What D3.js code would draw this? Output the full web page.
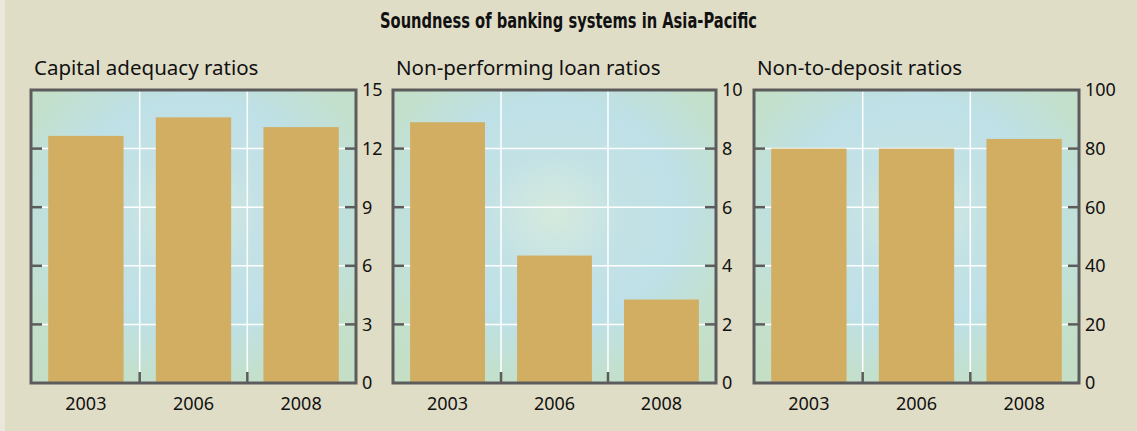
<!DOCTYPE html>
<html>
<head>
<meta charset="utf-8">
<script src="https://cdn.jsdelivr.net/npm/d3@7"></script>
<style>
	body { margin: 0; background: #e0ddc7; }
	svg { display: block; }
</style>
</head>
<body>
<div id="chart"></div>
<script>
// data
var years = ['2003', '2006', '2008'];
var capitalRatios = [12.65, 13.6, 13.1];
var nplRatios = [8.9, 4.35, 2.85];
var depositRatios = [80, 80, 83.3];

var capitalTicks = [0, 3, 6, 9, 12, 15];
var nplTicks = [0, 2, 4, 6, 8, 10];
var depositTicks = [0, 20, 40, 60, 80, 100];

var titles = ['Capital adequacy ratios', 'Non-performing loan ratios', 'Non-to-deposit ratios'];
var chartTitle = 'Soundness of banking systems in Asia-Pacific';

var width = 1137, height = 431;
var plotTop = 90, plotBottom = 383;

var panels = [
	{ title: titles[0], values: capitalRatios, ticks: capitalTicks, x0: 31, x1: 356 },
	{ title: titles[1], values: nplRatios, ticks: nplTicks, x0: 393, x1: 716 },
	{ title: titles[2], values: depositRatios, ticks: depositTicks, x0: 754, x1: 1079 },
];

var svg = d3.select('#chart').append('svg')
	.attr('width', width)
	.attr('height', height);

svg.append('rect').attr('width', width).attr('height', height).attr('fill', '#e0ddc7');
svg.append('rect').attr('width', 5).attr('height', height).attr('fill', '#eae8db');

var defs = svg.append('defs');
var grad = defs.append('radialGradient')
	.attr('id', 'panelBg')
	.attr('cx', 0.5).attr('cy', 0.42).attr('r', 0.7);
grad.append('stop').attr('offset', '0%').attr('stop-color', '#d6eadd');
grad.append('stop').attr('offset', '28%').attr('stop-color', '#c4e2e5');
grad.append('stop').attr('offset', '55%').attr('stop-color', '#bee0e7');
grad.append('stop').attr('offset', '82%').attr('stop-color', '#c3e0cd');
grad.append('stop').attr('offset', '100%').attr('stop-color', '#c4dfc6');

// condensed bold title: squeeze to the width seen in the picture
svg.append('text')
	.attr('x', 380).attr('y', 28)
	.attr('textLength', 377)
	.attr('lengthAdjust', 'spacingAndGlyphs')
	.style('font-family', '"DejaVu Sans", sans-serif')
	.style('font-weight', 'bold')
	.style('font-size', '22px')
	.attr('fill', '#111')
	.text(chartTitle);

var frameColor = '#5c5c5c';
var labelFont = '"Noto Sans", "Open Sans", sans-serif';

panels.forEach(function (p) {
	var g = svg.append('g');
	var ymax = d3.max(p.ticks);

	var x = d3.scaleBand().domain(years).range([p.x0, p.x1]).paddingInner(0.3).paddingOuter(0.16);
	var y = d3.scaleLinear().domain([0, ymax]).range([plotBottom, plotTop]);

	g.append('rect')
		.attr('x', p.x0).attr('y', plotTop)
		.attr('width', p.x1 - p.x0).attr('height', plotBottom - plotTop)
		.attr('fill', 'url(#panelBg)');

	// white grid lines
	g.append('g').selectAll('line').data(p.ticks.slice(1, -1)).join('line')
		.attr('x1', p.x0).attr('x2', p.x1)
		.attr('y1', d => y(d)).attr('y2', d => y(d))
		.attr('stroke', '#fff').attr('stroke-width', 1.5);

	var step = x.step();
	var bounds = years.slice(1).map(d => x(d) - step * x.paddingInner() / 2);
	g.append('g').selectAll('line').data(bounds).join('line')
		.attr('x1', d => d).attr('x2', d => d)
		.attr('y1', plotTop).attr('y2', plotBottom)
		.attr('stroke', '#fff').attr('stroke-width', 1.5);

	g.append('g').selectAll('rect').data(p.values).join('rect')
		.attr('x', (d, i) => x(years[i]))
		.attr('width', x.bandwidth())
		.attr('y', d => y(d))
		.attr('height', d => plotBottom - y(d))
		.attr('fill', '#d1ae62');

	// inner ticks on both sides + bottom
	var tk = p.ticks.slice(1, -1);
	g.append('g').selectAll('line').data(tk).join('line')
		.attr('x1', p.x1 - 11).attr('x2', p.x1)
		.attr('y1', d => y(d)).attr('y2', d => y(d))
		.attr('stroke', frameColor).attr('stroke-width', 2.5);
	g.append('g').selectAll('line').data(tk).join('line')
		.attr('x1', p.x0).attr('x2', p.x0 + 11)
		.attr('y1', d => y(d)).attr('y2', d => y(d))
		.attr('stroke', frameColor).attr('stroke-width', 2.5);
	g.append('g').selectAll('line').data(bounds).join('line')
		.attr('x1', d => d).attr('x2', d => d)
		.attr('y1', plotBottom - 11).attr('y2', plotBottom)
		.attr('stroke', frameColor).attr('stroke-width', 2.5);

	g.append('rect')
		.attr('x', p.x0).attr('y', plotTop)
		.attr('width', p.x1 - p.x0).attr('height', plotBottom - plotTop)
		.attr('fill', 'none')
		.attr('stroke', frameColor).attr('stroke-width', 3);

	// right axis labels
	g.append('g').selectAll('text').data(p.ticks).join('text')
		.attr('x', p.x1 + 6)
		.attr('y', d => y(d))
		.attr('dy', '0.36em')
		.style('font-family', labelFont)
		.style('font-size', '18px')
		.attr('fill', '#111')
		.text(d => d);

	g.append('g').selectAll('text').data(years).join('text')
		.attr('x', d => x(d) + x.bandwidth() / 2)
		.attr('y', 410)
		.attr('text-anchor', 'middle')
		.style('font-family', labelFont)
		.style('font-size', '18px')
		.attr('fill', '#111')
		.text(d => d);

	g.append('text')
		.attr('x', p.x0 + 3).attr('y', 75)
		.style('font-family', labelFont)
		.style('font-size', '20.5px')
		.attr('fill', '#111')
		.text(p.title);
});
</script>
</body>
</html>
